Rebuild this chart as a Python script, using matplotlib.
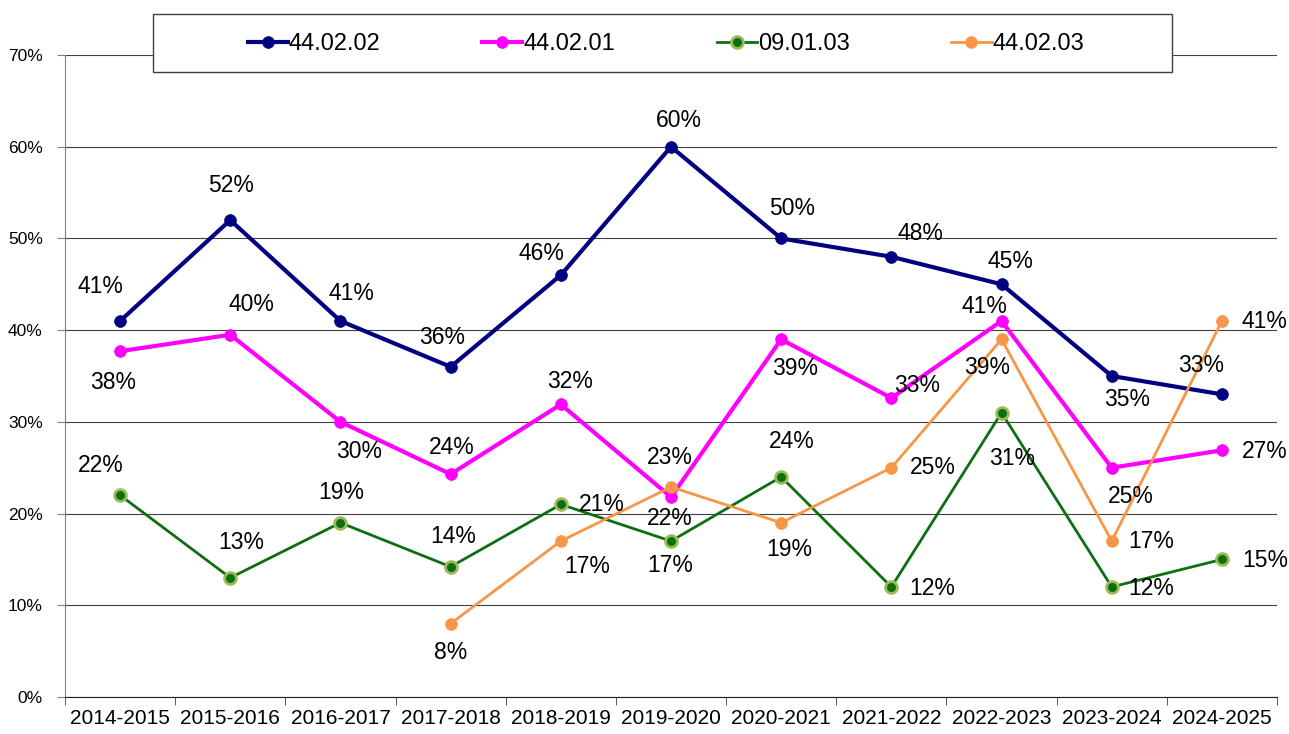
"""
Line chart of yearly shares for four programme codes, with value labels.
"""

import numpy as np
import matplotlib.pyplot as plt
from matplotlib.patches import Rectangle
from matplotlib.ticker import FixedLocator, PercentFormatter

plt.rcParams['font.family'] = ['Liberation Sans', 'DejaVu Sans']

YEARS = ['2014-2015', '2015-2016', '2016-2017', '2017-2018', '2018-2019',
         '2019-2020', '2020-2021', '2021-2022', '2022-2023', '2023-2024',
         '2024-2025']

S_440202 = [41, 52, 41, 36, 46, 60, 50, 48, 45, 35, 33]
S_440201 = [37.7, 39.5, 30, 24.3, 31.9, 21.8, 39, 32.6, 41, 25, 26.9]
S_090103 = [22, 13, 19, 14.2, 21, 17, 24, 12, 31, 12, 15]
S_440203 = [None, None, None, 8, 17, 22.9, 19, 25, 39, 17, 41]

LABELS_440202 = [41, 52, 41, 36, 46, 60, 50, 48, 45, 35, 33]
LABELS_440201 = [38, 40, 30, 24, 32, 22, 39, 33, 41, 25, 27]
LABELS_090103 = [22, 13, 19, 14, 21, 17, 24, 12, 31, 12, 15]
LABELS_440203 = [None, None, None, 8, 17, 23, 19, 25, 39, 17, 41]

# label offsets from the point, in pixels (x right, y down)
OFF_440202 = [(-20, -34), (1, -35), (11, -27), (-9, -29), (-19, -22), (8, -26),
              (11, -30), (29, -23), (9, -23), (15, 23), (-21, -29)]
OFF_440201 = [(-7, 31), (21, -30), (19, 30), (1, -27), (9, -23), (-1, 21),
              (14, 29), (26, -13), (-17, -14), (19, 29), (43, 1)]
OFF_090103 = [(-19, -30), (11, -35), (1, -30), (3, -30), (41, 0), (-1, 24),
              (11, -35), (41, 2), (11, 46), (39, 2), (43, 1)]
OFF_440203 = [None, None, None, (0, 29), (26, 25), (-1, -29), (8, 27),
              (41, 0), (-14, 28), (39, 0), (43, 1)]


def add_series(ax, values, labels, offsets, name, color, lw, mfc, mec, mew):
    x = np.arange(len(values))
    y = np.array([np.nan if v is None else v for v in values], dtype=float)
    ax.plot(x, y, color=color, lw=lw, marker='o', ms=8.5, mfc=mfc, mec=mec,
            mew=mew, label=name)
    for xi, yi, lab, off in zip(x, y, labels, offsets):
        if lab is None:
            continue
        dx, dy = off
        ax.annotate(f'{lab}%', (xi, yi), xytext=(dx * 0.72, -dy * 0.72),
                    textcoords='offset points', ha='center', va='center',
                    fontsize=16.5, color='black')


fig = plt.figure(figsize=(12.89, 7.34), dpi=100)
ax = fig.add_axes([65 / 1289, 37 / 734, 1212 / 1289, 642 / 734])

add_series(ax, S_440202, LABELS_440202, OFF_440202, '44.02.02',
           '#000080', 3, '#000080', '#000080', 0.5)
add_series(ax, S_440201, LABELS_440201, OFF_440201, '44.02.01',
           '#FF00FF', 3, '#FF00FF', '#FF00FF', 0.5)
add_series(ax, S_090103, LABELS_090103, OFF_090103, '09.01.03',
           '#0E6E12', 2, '#0E6E12', '#9BBB59', 2)
add_series(ax, S_440203, LABELS_440203, OFF_440203, '44.02.03',
           '#F79646', 2, '#F79646', '#F79646', 0.5)

ax.set_xlim(-0.5, len(YEARS) - 0.5)
ax.set_ylim(0, 70)
ax.set_xticks(range(len(YEARS)))
ax.set_xticklabels(YEARS, fontsize=15)
ax.xaxis.set_minor_locator(FixedLocator(np.arange(-0.5, len(YEARS), 1)))
ax.tick_params(axis='x', which='major', length=0, pad=9)
ax.tick_params(axis='x', which='minor', length=6, color='#404040')
ax.set_yticks(range(0, 71, 10))
ax.yaxis.set_major_formatter(PercentFormatter(decimals=0))
ax.tick_params(axis='y', labelsize=12.5, length=6, color='#808080', pad=10)

ax.grid(axis='y', color='#404040', lw=0.8)
ax.set_axisbelow(True)
for side in ('top', 'right'):
    ax.spines[side].set_visible(False)
ax.spines['left'].set_color('#808080')
ax.spines['bottom'].set_color('#202020')

# legend frame, then a frameless legend inside it
fig.patches.append(Rectangle((153 / 1289, 662 / 734), 1019 / 1289, 58 / 734,
                             transform=fig.transFigure, fill=True, fc='white',
                             ec='#404040', lw=1.0, zorder=3))
leg = fig.legend(loc='center', bbox_to_anchor=(666 / 1289, 690 / 734),
                 ncol=4, fontsize=17, handlelength=1.7, handletextpad=0.05,
                 columnspacing=4.3, frameon=False)
leg.set_zorder(4)

plt.savefig('out.png', dpi=100)
